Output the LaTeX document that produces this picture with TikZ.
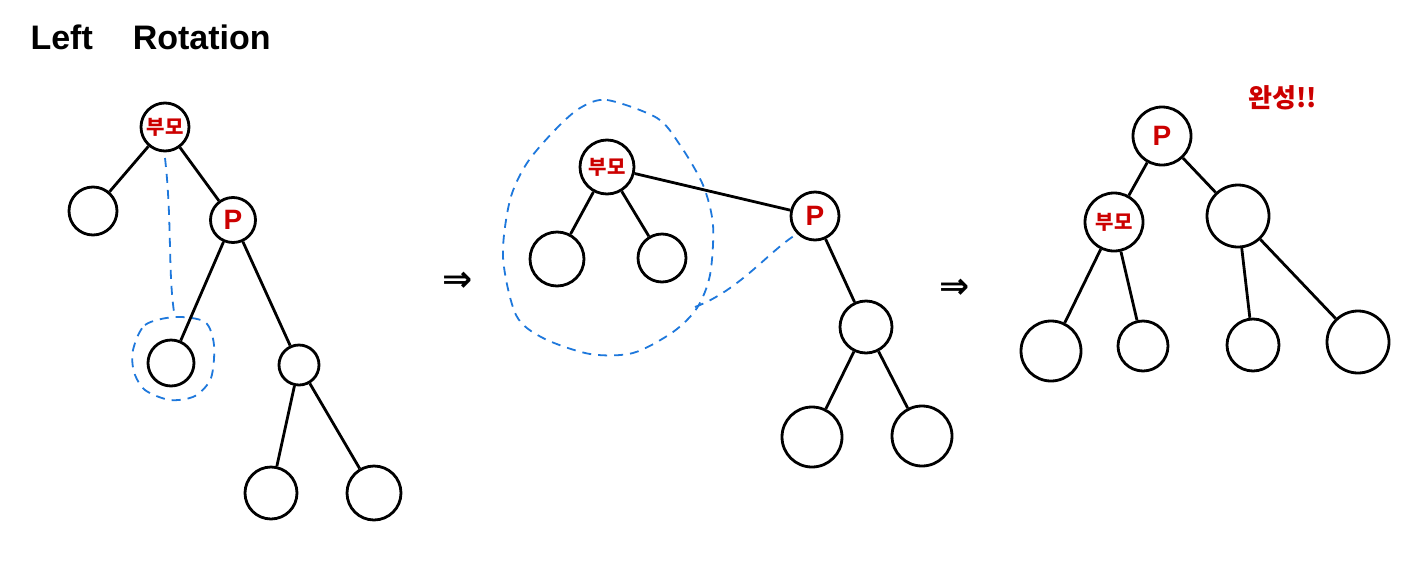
\documentclass[tikz,border=0pt]{standalone}
\usepackage{fontspec}
\setmainfont{Liberation Sans}
\newfontfamily\kr{Noto Sans CJK KR}
\newfontfamily\sym{DejaVu Sans}
\definecolor{redtxt}{RGB}{204,0,0}
\definecolor{bluedash}{RGB}{30,120,220}
\begin{document}
\begin{tikzpicture}[x=1pt,y=-1pt,
  nd/.style={circle,draw=black,line width=2.8pt,inner sep=0pt,minimum size=#1,fill=white},
  nd/.default=48pt,
  lab/.style={text=redtxt,font=\kr\fontsize{20}{20}\selectfont\bfseries},
  plab/.style={text=redtxt,font=\fontsize{28}{28}\selectfont\bfseries},
  edge/.style={line width=2.8pt,black},
  blu/.style={bluedash,line width=1.8pt,dash pattern=on 9pt off 7pt}]
\useasboundingbox (0,0) rectangle (1410,568);
\fill[white] (0,0) rectangle (1410,568);

\node[anchor=west,font=\fontsize{34}{34}\selectfont\bfseries] (title) at (27,37) {Left\hspace{40pt}Rotation};

% ---- Tree 1
\draw[blu] (165,158) .. controls (172,220) and (168,270) .. (174,312);
\draw[blu] plot[smooth cycle] coordinates {(133,350) (145,325) (175,317) (205,322) (214,345) (211,378) (195,396) (170,400) (145,390) (134,372)};
\node[nd=48pt,lab] (a1) at (165,127) {부모};
\node[nd=48pt] (a2) at (93,211) {};
\node[nd=45pt,plab] (a3) at (233,220) {P};
\node[nd=46pt] (a4) at (171,363) {};
\node[nd=40pt] (a5) at (299,365) {};
\node[nd=52pt] (a6) at (271,493) {};
\node[nd=54pt] (a7) at (374,493) {};
\draw[edge] (a1) -- (a2);
\draw[edge] (a1) -- (a3);
\draw[edge] (a3) -- (a4);
\draw[edge] (a3) -- (a5);
\draw[edge] (a5) -- (a6);
\draw[edge] (a5) -- (a7);

\node[font=\sym\fontsize{36}{36}\selectfont\bfseries] (arr1) at (458,282) {⇒};

% ---- Tree 2
\draw[blu] plot[smooth cycle] coordinates {(580,108) (607,100) (657,118) (680,145) (703,185) (713,225) (710,275) (697,308) (673,332) (633,353) (590,354) (543,338) (516,315) (503,257) (510,200) (527,163) (555,130)};
\coordinate (tailA) at (695,307);
\node[nd=54pt,lab] (b1) at (607,167) {부모};
\node[nd=54pt] (b2) at (557,259) {};
\node[nd=48pt] (b3) at (662,258) {};
\node[nd=48pt,plab] (b4) at (815,216) {P};
\node[nd=52pt] (b5) at (866,327) {};
\node[nd=60pt] (b6) at (812,437) {};
\node[nd=60pt] (b7) at (922,436) {};
\draw[blu] (tailA) .. controls (740,290) and (770,250) .. (b4.south west);
\draw[edge] (b1) -- (b4);
\draw[edge] (b1) -- (b2);
\draw[edge] (b1) -- (b3);
\draw[edge] (b4) -- (b5);
\draw[edge] (b5) -- (b6);
\draw[edge] (b5) -- (b7);

\node[font=\sym\fontsize{36}{36}\selectfont\bfseries] (arr2) at (955,289) {⇒};

% ---- Tree 3
\node[nd=58pt,plab] (c1) at (1162,136) {P};
\node[nd=58pt,lab] (c2) at (1114,222) {부모};
\node[nd=62pt] (c3) at (1238,216) {};
\node[nd=60pt] (c4) at (1051,351) {};
\node[nd=50pt] (c5) at (1143,346) {};
\node[nd=52pt] (c6) at (1253,345) {};
\node[nd=62pt] (c7) at (1358,342) {};
\draw[edge] (c1) -- (c2);
\draw[edge] (c1) -- (c3);
\draw[edge] (c2) -- (c4);
\draw[edge] (c2) -- (c5);
\draw[edge] (c3) -- (c6);
\draw[edge] (c3) -- (c7);

\node[text=redtxt,font=\kr\fontsize{26}{26}\selectfont\bfseries] (done) at (1283,98) {완성!!};
\end{tikzpicture}
\end{document}
